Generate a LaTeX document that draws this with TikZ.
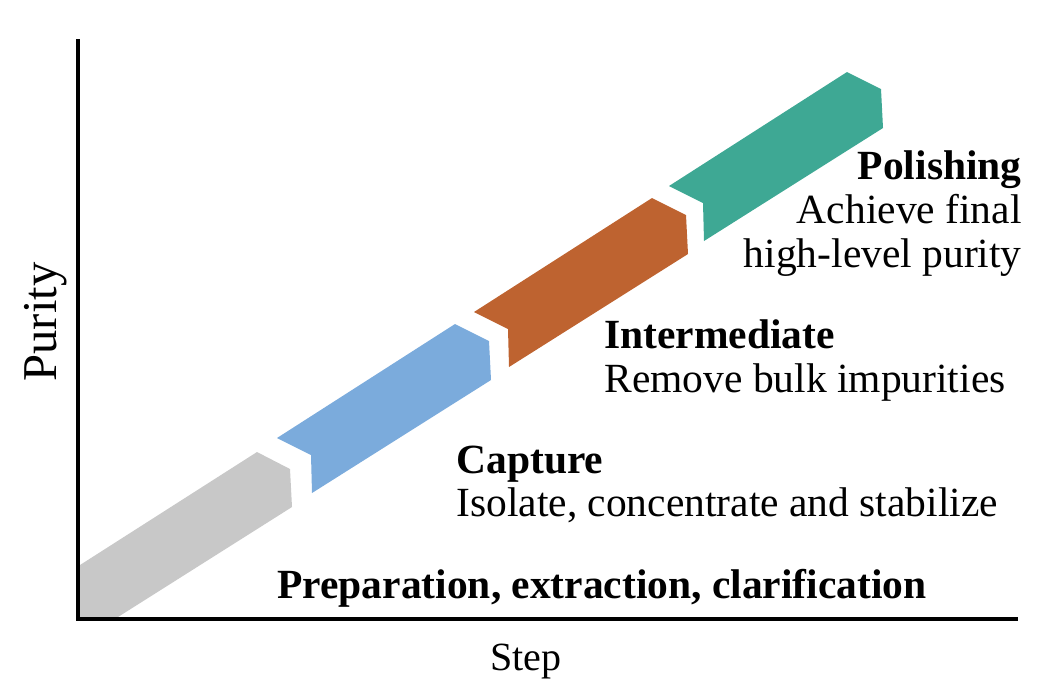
\documentclass[tikz,border=0pt]{standalone}
\usepackage{fontspec}
\setmainfont{Liberation Serif}
\usepackage{tikz}
\usetikzlibrary{positioning}
\definecolor{prepStage}{RGB}{200,200,200}
\definecolor{captureStage}{RGB}{123,171,220}
\definecolor{intermediateStage}{RGB}{190,99,48}
\definecolor{polishingStage}{RGB}{62,168,148}

\begin{document}
\begin{tikzpicture}[
  x=0.5pt,
  y=-0.5pt,
  every stage/.style={
    draw=none,
  },
  stage title/.style={
    inner sep=0pt,
    font=\fontsize{20.75}{22}\selectfont\bfseries,
  },
  stage text/.style={
    inner sep=0pt,
    font=\fontsize{20.75}{22}\selectfont,
  },
  axis label/.style={
    inner sep=0pt,
    font=\fontsize{20}{24}\selectfont,
  }
]
\useasboundingbox (0,0) rectangle (1059,693);
% first stage, cut off by the axes
\fill[every stage,prepStage] (80,565) -- (257,452) -- (290,469) -- (292,507)
  -- (118,617) -- (80,617) -- cycle;
% the three notched stages
\foreach \px/\py/\c in {277/438/captureStage,474/312/intermediateStage,669/186/polishingStage}
{
  \fill[every stage,\c] (\px,\py) -- ++(178,-114) -- ++(34,17) -- ++(2,39)
    -- ++(-179,113) -- ++(-1,-38) -- cycle;
}
% axes
\coordinate (origin) at (78,619);
\coordinate (yTop) at (78,39);
\coordinate (xEnd) at (1018,619);
\draw[line width=2pt] (yTop) -- (origin) -- (xEnd);
\node[axis label,font=\fontsize{24.3}{28}\selectfont,rotate=90,anchor=base] (purity) at (56,322) {Purity};
\node[axis label,anchor=base] (step) at (526,670) {Step};
% stage labels
\node[stage title,anchor=base west] (prep) at (277,598) {Preparation, extraction, clarification};
\node[stage title,anchor=base west] (capture) at (456,473) {Capture};
\node[stage text,anchor=base west] (captureText) at ([yshift=-21.5pt]capture.base west) {Isolate, concentrate and stabilize};
\node[stage title,anchor=base west] (inter) at (604,348) {Intermediate};
\node[stage text,anchor=base west] (interText) at ([yshift=-22pt]inter.base west) {Remove bulk impurities};
\node[stage title,anchor=base east] (polish) at (1022,179) {Polishing};
\foreach \t/\n/\p in {{Achieve final}/polishA/polish,{high-level purity}/polishB/polishA}
  \node[stage text,anchor=base east] (\n) at ([yshift=-22pt]\p.base east) {\t};
\end{tikzpicture}
\end{document}
